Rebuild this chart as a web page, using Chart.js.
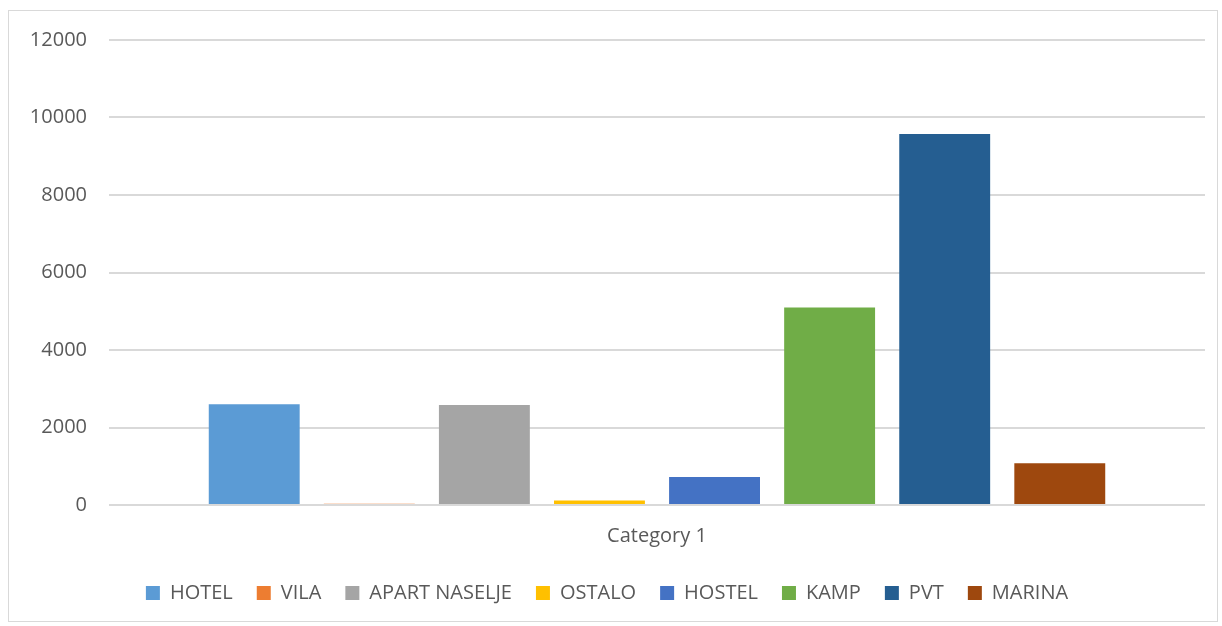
<!DOCTYPE html>
<html>
<head>
<meta charset="utf-8">
<script src="https://cdn.jsdelivr.net/npm/chart.js@4.4.0/dist/chart.umd.min.js"></script>
<style>
    body { margin: 0; background: #fff; }
    #box {
        position: absolute; left: 8px; top: 10px;
        width: 1210px; height: 612px;
        border: 1px solid #d9d9d9; box-sizing: border-box;
    }
</style>
</head>
<body>
<div id="box"><canvas id="myChart"></canvas></div>
<script>
const categories = ['Category 1'];
const seriesNames = ['HOTEL', 'VILA', 'APART NASELJE', 'OSTALO', 'HOSTEL', 'KAMP', 'PVT', 'MARINA'];
const seriesValues = [2600, 30, 2580, 115, 720, 5100, 9575, 1080];
const seriesColors = ['#5B9BD5', '#ED7D31', '#A5A5A5', '#FFC000', '#4472C4', '#70AD47', '#255E91', '#9E480E'];
const yTicks = [0, 2000, 4000, 6000, 8000, 10000, 12000];

const font = { family: 'Open Sans', size: 20 };
const textColor = '#595959';

const datasets = seriesNames.map((name, i) => ({
    label: name,
    data: [seriesValues[i]],
    backgroundColor: seriesColors[i],
    borderWidth: 0,
    barPercentage: 0.79,
    categoryPercentage: 0.84
}));

const ctx = document.getElementById('myChart').getContext('2d');
const myChart = new Chart(ctx, {
    type: 'bar',
    data: {
        labels: categories,
        datasets: datasets
    },
    options: {
        responsive: true,
        maintainAspectRatio: false,
        animation: false,
        layout: { padding: { top: 29, right: 12, left: 0, bottom: 8 } },
        plugins: {
            tooltip: { enabled: false },
            legend: {
                position: 'bottom',
                labels: {
                    font: font,
                    color: textColor,
                    boxWidth: 14,
                    boxHeight: 14,
                    padding: 24
                }
            }
        },
        scales: {
            x: {
                grid: { display: false },
                border: { display: false },
                ticks: { font: font, color: textColor, padding: 11 }
            },
            y: {
                min: 0,
                max: 12000,
                afterBuildTicks: scale => { scale.ticks = yTicks.map(v => ({ value: v })); },
                afterFit: scale => {
                    scale.width = 100;
                    scale.paddingTop = 0;
                    scale.paddingBottom = 0;
                },
                grid: { color: '#d9d9d9', lineWidth: 2, drawTicks: false },
                border: { display: false },
                ticks: {
                    font: font,
                    color: textColor,
                    padding: 22,
                    callback: v => String(v)
                }
            }
        }
    }
});
</script>
</body>
</html>
